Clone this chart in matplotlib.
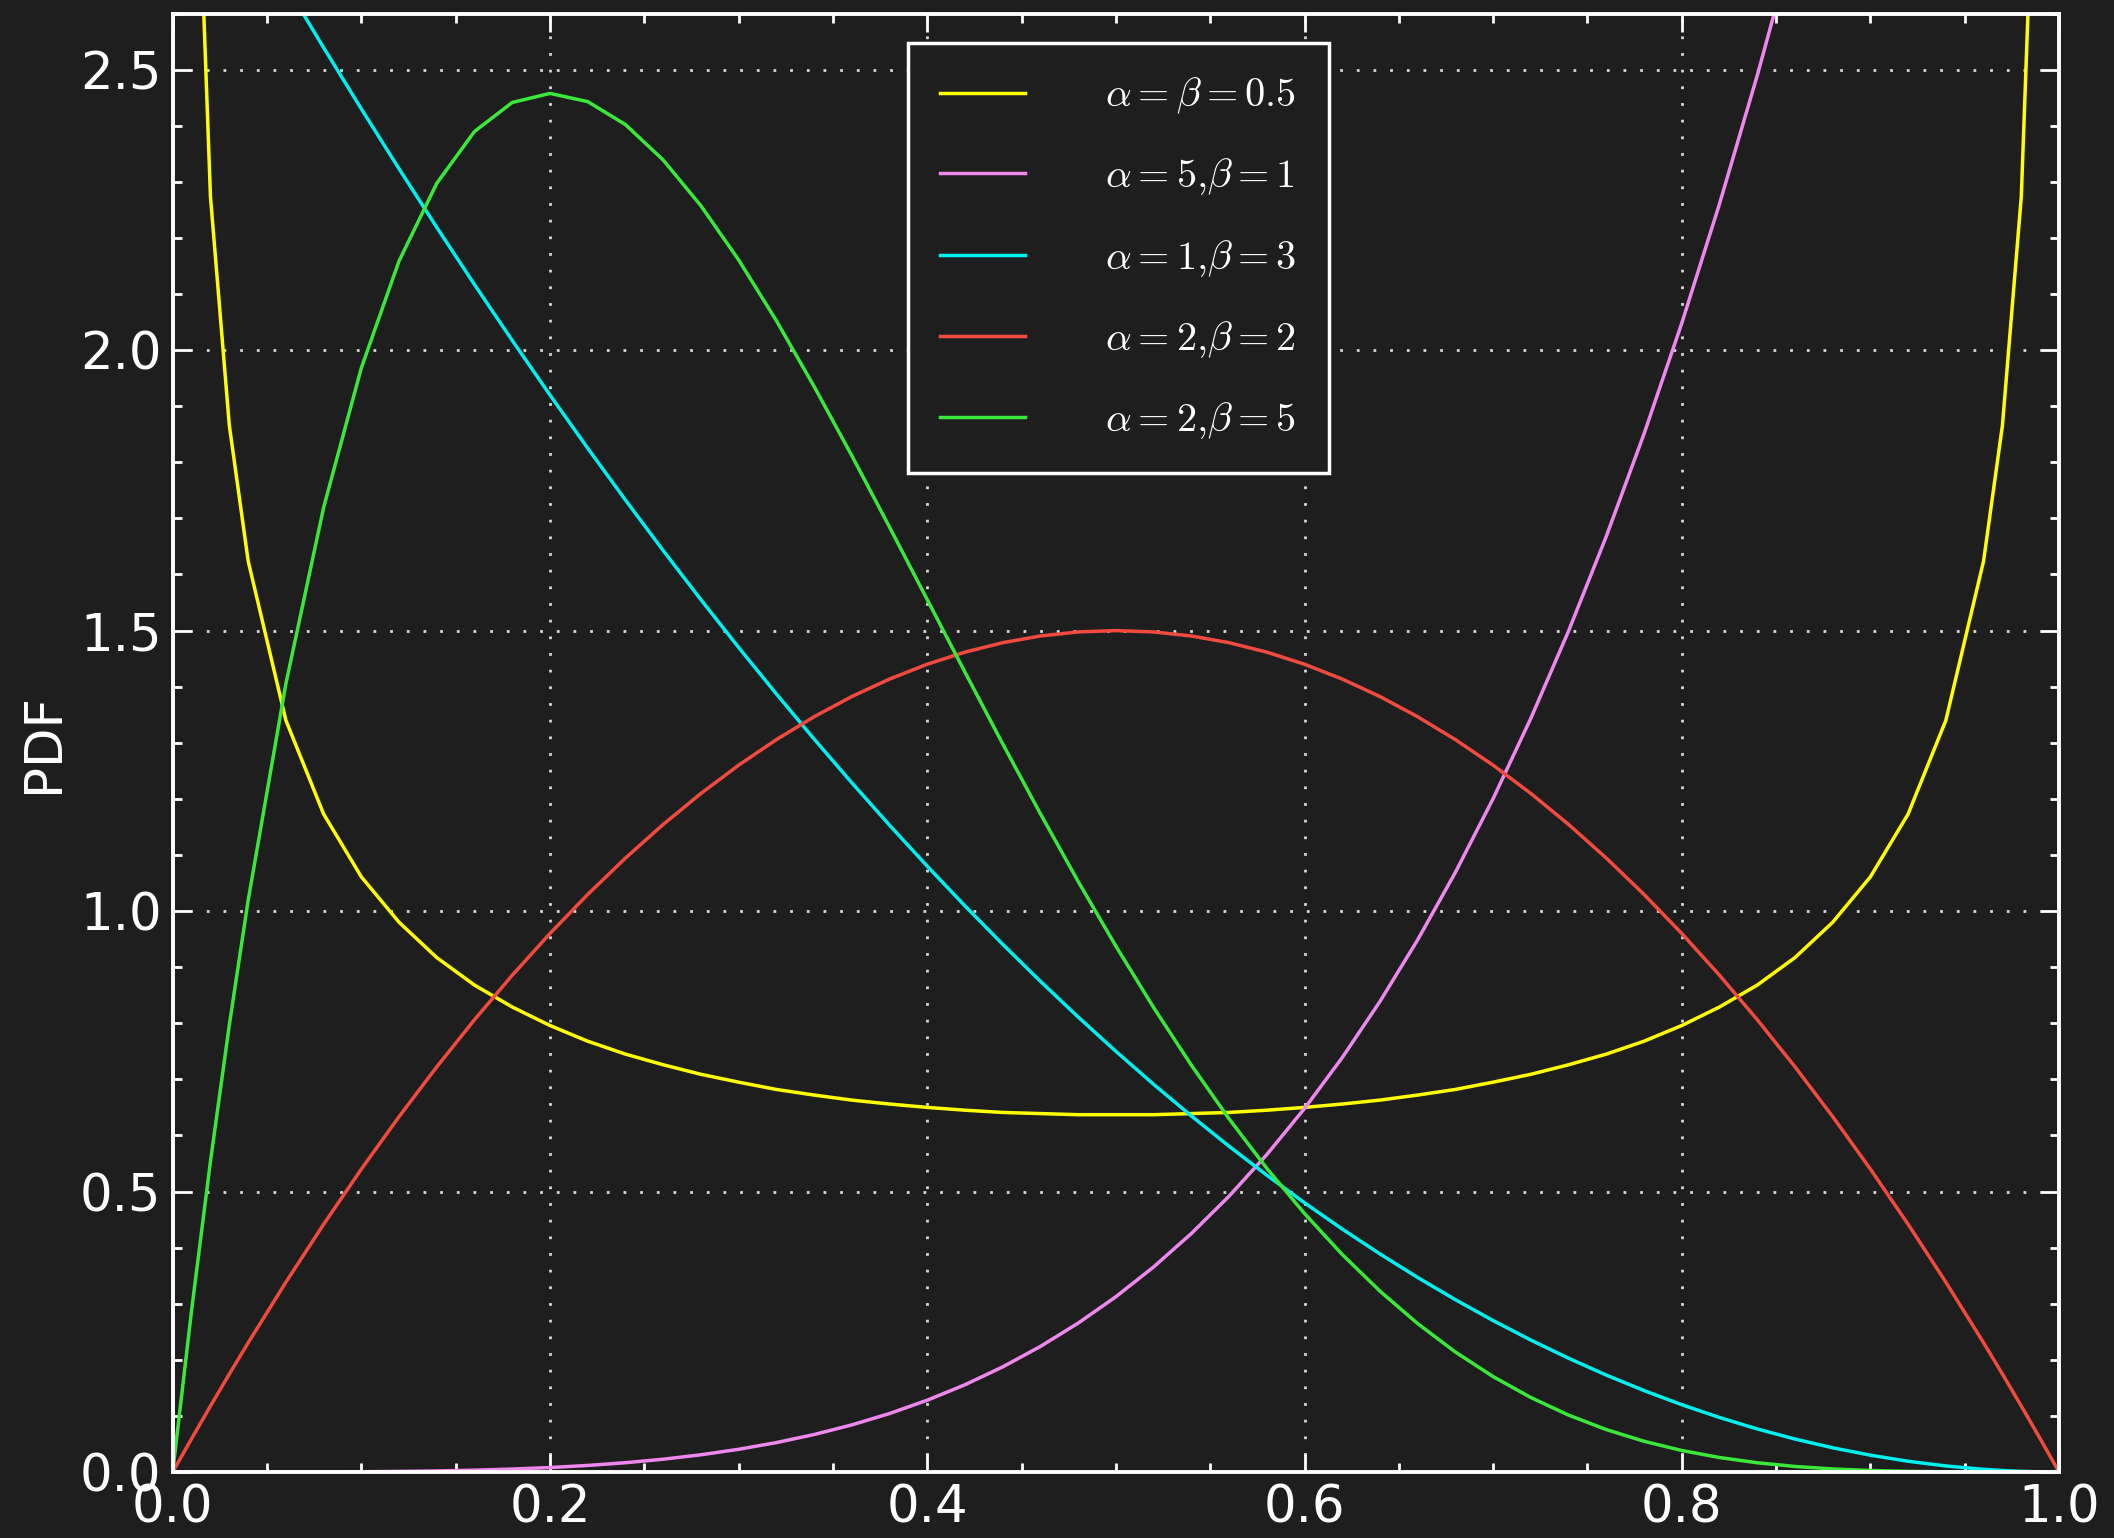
import numpy as np
import matplotlib
matplotlib.use('Agg')
import matplotlib.pyplot as plt
from matplotlib.ticker import MultipleLocator

# values (PDF heights at each x)
x = [0.0, 0.01, 0.02, 0.03, 0.04, 0.06, 0.08, 0.10, 0.12, 0.14, 0.16, 0.18, 0.20,
     0.22, 0.24, 0.26, 0.28, 0.30, 0.32, 0.34, 0.36, 0.38, 0.40, 0.42, 0.44,
     0.46, 0.48, 0.50, 0.52, 0.54, 0.56, 0.58, 0.60, 0.62, 0.64, 0.66, 0.68,
     0.70, 0.72, 0.74, 0.76, 0.78, 0.80, 0.82, 0.84, 0.86, 0.88, 0.90, 0.92,
     0.94, 0.96, 0.97, 0.98, 0.99, 1.0]

a05_b05 = [np.nan, 3.199, 2.274, 1.866, 1.624, 1.340, 1.173, 1.061, 0.980, 0.917, 0.868,
           0.829, 0.796, 0.768, 0.745, 0.726, 0.709, 0.695, 0.682, 0.672, 0.663,
           0.656, 0.650, 0.645, 0.641, 0.639, 0.637, 0.637, 0.637, 0.639, 0.641,
           0.645, 0.650, 0.656, 0.663, 0.672, 0.682, 0.695, 0.709, 0.726, 0.745,
           0.768, 0.796, 0.829, 0.868, 0.917, 0.980, 1.061, 1.173, 1.340, 1.624,
           1.866, 2.274, 3.199, np.nan]

a5_b1 = [0.0, 0.0, 0.0, 0.0, 0.00001, 0.00006, 0.0002, 0.0005, 0.00104, 0.00192, 0.00328,
         0.00525, 0.008, 0.01171, 0.01659, 0.02285, 0.03073, 0.0405, 0.05243, 0.06682,
         0.08398, 0.10426, 0.128, 0.15558, 0.1874, 0.22388, 0.26542, 0.3125, 0.36558,
         0.42515, 0.49173, 0.56583, 0.648, 0.73881, 0.83886, 0.94873, 1.06907, 1.2005,
         1.34369, 1.49933, 1.66811, 1.85076, 2.048, 2.26061, 2.48935, 2.73504, 2.99847,
         3.2805, 3.582, 3.904, 4.247, 4.426, 4.612, 4.803, 5.0]

a1_b3 = [3.0, 2.9403, 2.8812, 2.8227, 2.7648, 2.6508, 2.5392, 2.43, 2.3232, 2.2188, 2.1168,
         2.0172, 1.92, 1.8252, 1.7328, 1.6428, 1.5552, 1.47, 1.3872, 1.3068, 1.2288,
         1.1532, 1.08, 1.0092, 0.9408, 0.8748, 0.8112, 0.75, 0.6912, 0.6348, 0.5808,
         0.5292, 0.48, 0.4332, 0.3888, 0.3468, 0.3072, 0.27, 0.2352, 0.2028, 0.1728,
         0.1452, 0.12, 0.0972, 0.0768, 0.0588, 0.0432, 0.03, 0.0192, 0.0108, 0.0048,
         0.0027, 0.0012, 0.0003, 0.0]

a2_b2 = [0.0, 0.0594, 0.1176, 0.1746, 0.2304, 0.3384, 0.4416, 0.54, 0.6336, 0.7224, 0.8064,
         0.8856, 0.96, 1.0296, 1.0944, 1.1544, 1.2096, 1.26, 1.3056, 1.3464, 1.3824,
         1.4136, 1.44, 1.4616, 1.4784, 1.4904, 1.4976, 1.5, 1.4976, 1.4904, 1.4784,
         1.4616, 1.44, 1.4136, 1.3824, 1.3464, 1.3056, 1.26, 1.2096, 1.1544, 1.0944,
         1.0296, 0.96, 0.8856, 0.8064, 0.7224, 0.6336, 0.54, 0.4416, 0.3384, 0.2304,
         0.1746, 0.1176, 0.0594, 0.0]

a2_b5 = [0.0, 0.28818, 0.55342, 0.79676, 1.01922, 1.40535, 1.71934, 1.9683, 2.1589, 2.29743,
         2.38978, 2.44146, 2.4576, 2.443, 2.40208, 2.33895, 2.25741, 2.1609, 2.05261,
         1.93542, 1.81194, 1.6845, 1.5552, 1.42588, 1.29815, 1.17343, 1.05287, 0.9375,
         0.82811, 0.72536, 0.62968, 0.54144, 0.4608, 0.38783, 0.32248, 0.26459, 0.21391,
         0.1701, 0.13277, 0.10145, 0.07565, 0.05482, 0.0384, 0.02582, 0.01652, 0.00991,
         0.00547, 0.0027, 0.00113, 0.00037, 0.00007, 0.00002, 0.000005, 0.0, 0.0]

series = [a05_b05, a5_b1, a1_b3, a2_b2, a2_b5]
labels = [r'$\alpha=\beta=0.5$', r'$\alpha=5{,}\beta=1$', r'$\alpha=1{,}\beta=3$',
          r'$\alpha=2{,}\beta=2$', r'$\alpha=2{,}\beta=5$']
colors = ['#ffff00', '#ee88ee', '#00f0f0', '#f24a3f', '#3ae83a']

bg = '#1f1e1e'
plt.rcParams['mathtext.fontset'] = 'cm'

fig = plt.figure(figsize=(21.14, 15.38), dpi=100, facecolor=bg)
ax = fig.add_axes([0.0817, 0.0429, 0.8923, 0.9483])
ax.set_facecolor(bg)

for y, lab, c in zip(series, labels, colors):
    ax.plot(x, y, color=c, lw=2.5, label=lab)

ax.set_xlim(0, 1)
ax.set_ylim(0, 2.6)
ax.xaxis.set_major_locator(MultipleLocator(0.2))
ax.xaxis.set_minor_locator(MultipleLocator(0.05))
ax.yaxis.set_major_locator(MultipleLocator(0.5))
ax.yaxis.set_minor_locator(MultipleLocator(0.1))
ax.tick_params(which='both', direction='in', top=True, right=True,
               color='white', width=2, labelcolor='white', labelsize=37)
ax.tick_params(which='major', length=13, pad=8)
ax.tick_params(which='minor', length=6.5)
for s in ax.spines.values():
    s.set_color('white')
    s.set_linewidth(2.8)

ax.grid(True, which='major', color='#d8d8d8', lw=2, linestyle=(0, (1, 5)))
ax.set_ylabel('PDF', color='white', fontsize=37, labelpad=8)

leg = ax.legend(loc='upper left', bbox_to_anchor=(0.3898, 0.9795), fontsize=29,
                frameon=True, fancybox=False, facecolor=bg, edgecolor='white',
                handlelength=2.1, handletextpad=2.0, labelspacing=1.0,
                borderpad=0.8, borderaxespad=0)
leg.get_frame().set_linewidth(2.5)
leg.get_frame().set_alpha(1)
for t in leg.get_texts():
    t.set_color('white')

fig.savefig('out.png', dpi=100, facecolor=bg)
